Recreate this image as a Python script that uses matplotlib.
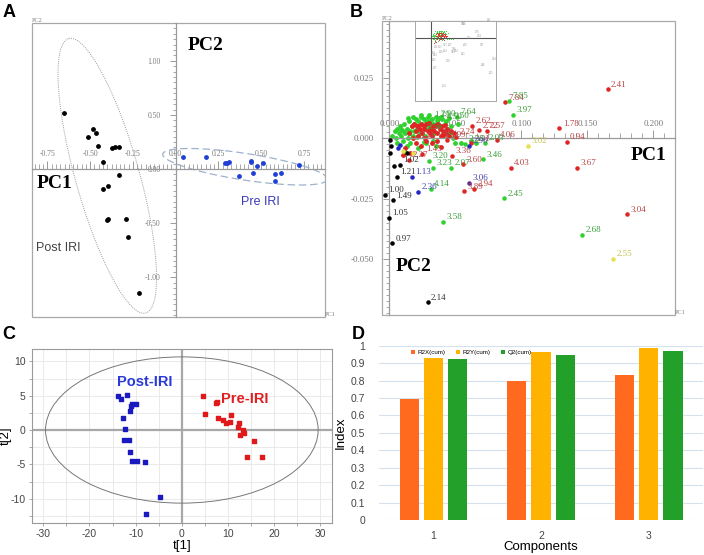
import numpy as np
import matplotlib.pyplot as plt
from matplotlib.patches import Rectangle, Ellipse
from matplotlib.ticker import MultipleLocator, FuncFormatter

plt.rcParams['axes.unicode_minus'] = False
SERIF = 'Liberation Serif'
SANS = 'Liberation Sans'

# ------------------------------------------------------------
# Panel A: PCA scores (Post IRI / Pre IRI)
post_x = [-0.651, -0.485, -0.511, -0.466, -0.456, -0.370, -0.355, -0.331, -0.423,
          -0.331, -0.394, -0.427, -0.394, -0.400, -0.292, -0.277, -0.216]
post_y = [0.52, 0.366, 0.298, 0.329, 0.215, 0.197, 0.200, 0.203, 0.062,
          -0.055, -0.154, -0.188, -0.465, -0.474, -0.462, -0.631, -1.148]
pre_x = [0.043, 0.179, 0.290, 0.302, 0.314, 0.439, 0.442, 0.474, 0.509,
         0.370, 0.454, 0.581, 0.616, 0.581, 0.723]
pre_y = [0.111, 0.108, 0.052, 0.058, 0.062, 0.062, 0.074, 0.028, 0.055,
         -0.065, -0.040, -0.049, -0.040, -0.114, 0.037]

# ellipses: centre and two conjugate semi-axis vectors (data units)
post_ell = [(-0.400, -0.062), (-0.225, 1.268), (0.180, 0.078)]
pre_ell = [(0.405, 0.0215), (0.481, -0.117), (-0.012, -0.1215)]

# ------------------------------------------------------------
# Panel B: loadings, labelled points
b_x = [0.1654, 0.0876, 0.0624, 0.0679, 0.0737, 0.1288, 0.1343, 0.0813, 0.1419,
       0.0919, 0.1798, 0.0616, 0.0472, 0.0561, 0.0566, 0.0641, 0.0434, 0.0505,
       0.0250, 0.0150,
       0.0907, 0.0937, 0.0510, 0.0725, 0.0707, 0.0303, 0.0333, 0.0467, 0.0313,
       0.0409, 0.0869, 0.1460, 0.0573,
       0.0172, 0.0217, 0.0606, 0.0604,
       0.1053, 0.1692,
       0.0056, 0.0081, -0.0033, 0.0025, -0.0005, 0.0023, 0.0290]
b_y = [0.0203, 0.0149, 0.0052, 0.0033, 0.0032, 0.0041, -0.0014, -0.0007, -0.0124,
       -0.0124, -0.0315, -0.0021, -0.0072, -0.0108, -0.0220, -0.0210, -0.0007, 0.0007,
       -0.0065, -0.0090,
       0.0155, 0.0098, 0.0090, -0.0018, -0.0087, -0.0093, -0.0124, -0.0124, -0.0210,
       -0.0345, -0.0249, -0.0401, -0.0023,
       -0.0160, -0.0222, -0.0185, -0.0030,
       -0.0030, -0.0501,
       -0.0159, -0.0109, -0.0233, -0.0257, -0.0331, -0.0435, -0.0680]
b_txt = ['2.41', '7.84', '2.62', '2.72', '2.57', '1.78', '0.94', '4.06', '3.67',
         '4.03', '3.04', '3.31', '3.36', '3.60', '3.89', '2.94', '1.99', '2.24',
         '1.45', '2.27',
         '7.85', '3.97', '7.64', '2.03', '3.46', '3.20', '3.23', '2.07', '4.14',
         '3.58', '2.45', '2.68', '3.38',
         '1.13', '2.36', '3.06', '2.96',
         '3.02', '2.55',
         '1.21', '1.02', '1.00', '1.49', '1.05', '0.97', '2.14']
b_grp = ['r'] * 20 + ['g'] * 13 + ['b', 'b', 'p', 'b'] + ['y', 'y'] + ['k'] * 7

# unlabelled points (dense cluster near origin)
green_cx = [0.002, 0.004, 0.005, 0.006, 0.007, 0.008, 0.009, 0.010, 0.011, 0.012,
            0.013, 0.014, 0.015, 0.016, 0.017, 0.018, 0.019, 0.020, 0.021, 0.022,
            0.023, 0.024, 0.025, 0.026, 0.027, 0.028, 0.029, 0.030, 0.032, 0.033,
            0.035, 0.036, 0.038, 0.040, 0.042, 0.044, 0.046, 0.048, 0.050, 0.010,
            0.013, 0.016, 0.012, 0.022, 0.028, 0.035, 0.054, 0.062, 0.066, 0.009,
            0.015, 0.019, 0.031, 0.037, 0.043, 0.006, 0.027, 0.034, 0.041, 0.047,
            0.018, 0.024, 0.030, 0.039, 0.045, 0.021, 0.033, 0.026, 0.014, 0.052]
green_cy = [0.001, 0.003, 0.000, 0.004, 0.002, 0.005, 0.001, 0.003, 0.006, 0.002,
            0.004, 0.000, 0.007, 0.003, 0.005, 0.001, 0.006, 0.008, 0.004, 0.007,
            0.002, 0.009, 0.006, 0.008, 0.004, 0.007, 0.009, 0.005, 0.008, 0.006,
            0.009, 0.007, 0.005, 0.008, 0.006, 0.004, 0.002, 0.000, -0.002, -0.001,
            -0.003, -0.002, -0.0055, -0.004, -0.002, -0.003, -0.002, -0.001, -0.002, 0.004,
            0.002, 0.003, 0.007, 0.008, 0.007, -0.002, 0.001, 0.002, 0.001, 0.005,
            0.009, 0.0095, 0.0095, 0.009, 0.0085, 0.0005, -0.001, -0.0015, 0.0085, 0.006]
red_cx = [0.015, 0.017, 0.018, 0.019, 0.020, 0.021, 0.022, 0.023, 0.024, 0.025,
          0.026, 0.027, 0.028, 0.029, 0.030, 0.031, 0.032, 0.033, 0.034, 0.035,
          0.036, 0.037, 0.038, 0.039, 0.040, 0.041, 0.042, 0.043, 0.044, 0.045,
          0.047, 0.049, 0.020, 0.024, 0.028, 0.032, 0.036, 0.012, 0.016, 0.039,
          0.026, 0.031, 0.035, 0.022, 0.041, 0.010, 0.033]
red_cy = [0.002, 0.005, 0.000, 0.006, 0.003, 0.005, 0.001, 0.004, 0.006, 0.002,
          0.005, 0.000, 0.006, 0.003, 0.0065, 0.004, 0.001, 0.005, 0.003, 0.005,
          0.002, 0.006, 0.004, 0.001, 0.005, 0.003, 0.0055, 0.002, 0.004, 0.001,
          0.003, 0.002, -0.002, -0.003, -0.001, -0.002, -0.001, -0.004, -0.006, -0.0035,
          0.004, 0.002, 0.0055, 0.005, 0.0015, -0.0069, 0.0035]
clab_x = [0.031, 0.036, 0.041, 0.046, 0.033, 0.026, 0.038, 0.020]
clab_y = [0.0075, 0.0080, 0.0070, 0.0072, 0.0006, 0.0025, -0.0012, -0.0010]
clab_t = ['1.19', '2.90', '4.50', '0.50', '1.18', '2.56', '1.24', '3.41']
clab_g = ['g', 'g', 'g', 'g', 'r', 'g', 'r', 'r']
black_cx = [0.0005, 0.0010, 0.0005, 0.0038, 0.0131]
black_cy = [-0.0007, -0.0032, -0.0059, -0.0113, -0.0062]
blue_cx = [0.0081, 0.0068]
blue_cy = [-0.0028, -0.0042]
yellow_cx = [0.0106, 0.0182]
yellow_cy = [-0.0051, -0.0059]

# ------------------------------------------------------------
# Panel C: PLS-DA scores
c_post_x = [-13.77, -13.27, -11.97, -11.10, -10.89, -10.02, -11.25, -12.69, -12.26,
            -12.47, -11.54, -11.18, -10.89, -9.81, -7.93, -4.69, -7.79]
c_post_y = [4.95, 4.51, 5.10, 3.54, 3.79, 3.79, 2.72, 1.75, 0.19,
            -1.41, -1.41, -3.16, -4.51, -4.51, -4.61, -9.71, -12.23]
c_pre_x = [4.54, 7.50, 7.64, 4.97, 7.86, 9.01, 9.52, 10.53, 10.67, 12.33, 12.11,
           13.27, 13.48, 12.69, 15.65, 14.20, 17.38]
c_pre_y = [4.90, 3.88, 4.08, 2.33, 1.80, 1.41, 1.07, 1.21, 2.14, 0.97, 0.39,
           0.0, -0.39, -0.73, -1.55, -3.88, -3.98]

# ------------------------------------------------------------
# Panel D: model summary
components = [1, 2, 3]
r2x = [0.694, 0.799, 0.832]
r2y = [0.930, 0.966, 0.984]
q2 = [0.922, 0.947, 0.969]

# ------------------------------------------------------------
fig = plt.figure(figsize=(7.04, 5.55), dpi=100)
axis_gray = '#9a9a9a'
frame_gray = '#a8a8a8'
lab_gray = '#7a7a7a'


def cross_axes(ax, xlim, ylim, xmaj, xmin, ymaj, ymin, xfmt, yfmt, lab_fs):
    ax.set_xlim(*xlim)
    ax.set_ylim(*ylim)
    for s in ['top', 'right']:
        ax.spines[s].set_visible(False)
    ax.spines['left'].set_position(('data', 0))
    ax.spines['bottom'].set_position(('data', 0))
    for s in ['left', 'bottom']:
        ax.spines[s].set_color(axis_gray)
        ax.spines[s].set_linewidth(0.9)
    ax.xaxis.set_major_locator(MultipleLocator(xmaj))
    ax.xaxis.set_minor_locator(MultipleLocator(xmin))
    ax.yaxis.set_major_locator(MultipleLocator(ymaj))
    ax.yaxis.set_minor_locator(MultipleLocator(ymin))
    ax.xaxis.set_major_formatter(FuncFormatter(lambda v, p: xfmt % v))
    ax.yaxis.set_major_formatter(FuncFormatter(lambda v, p: yfmt % v))
    ax.tick_params(axis='x', which='major', direction='in', length=6, width=0.7,
                   color=axis_gray, pad=-13.5, labelsize=lab_fs, labelcolor=lab_gray)
    ax.tick_params(axis='x', which='minor', direction='in', length=3.5, width=0.6,
                   color=axis_gray)
    ax.tick_params(axis='y', which='major', direction='out', length=4, width=0.7,
                   color=axis_gray, pad=7, labelsize=lab_fs, labelcolor=lab_gray)
    ax.tick_params(axis='y', which='minor', direction='out', length=2.5, width=0.6,
                   color=axis_gray)
    for lab in ax.get_xticklabels() + ax.get_yticklabels():
        lab.set_fontfamily(SERIF)
    ax.add_patch(Rectangle((0, 0), 1, 1, transform=ax.transAxes, fill=False,
                           ec=frame_gray, lw=0.9, clip_on=False))
    ax.text(0.0, 1.0, 'PC2', transform=ax.transAxes, fontsize=4.5, family=SERIF,
            color='#808080', ha='left', va='bottom')
    ax.text(1.0, 0.0, 'PC1', transform=ax.transAxes, fontsize=4.5, family=SERIF,
            color='#808080', ha='left', va='bottom')


def ellipse_curve(c, u, v):
    t = np.linspace(0, 2 * np.pi, 300)
    return (c[0] + u[0] * np.cos(t) + v[0] * np.sin(t),
            c[1] + u[1] * np.cos(t) + v[1] * np.sin(t))


# ---------------- A
axA = fig.add_axes([0.045, 0.4288, 0.4167, 0.530])
cross_axes(axA, (-0.842, 0.873), (-1.367, 1.351), 0.25, 0.025, 0.5, 0.05,
           '%.2f', '%.2f', 5.5)
ex, ey = ellipse_curve(*post_ell)
axA.plot(ex, ey, ls=(0, (1, 1.2)), color='#9a9a9a', lw=0.7)
ex, ey = ellipse_curve(*pre_ell)
axA.plot(ex, ey, ls=(0, (6, 3)), color='#9fb2cc', lw=0.9)
axA.scatter(post_x, post_y, s=6, color='black', zorder=3)
axA.scatter(pre_x, pre_y, s=6, color='#1f3fd6', zorder=3)
axA.text(-0.706, -0.132, 'PC1', family=SERIF, fontsize=14, fontweight='bold',
         ha='center', va='center')
axA.text(0.175, 1.145, 'PC2', family=SERIF, fontsize=14, fontweight='bold',
         ha='center', va='center')
axA.text(-0.686, -0.732, 'Post IRI', family=SANS, fontsize=9, color='#444444',
         ha='center', va='center')
axA.text(0.497, -0.30, 'Pre IRI', family=SANS, fontsize=9, color='#3a3ab8',
         ha='center', va='center')

# ---------------- B
pt_col = {'r': '#e02424', 'g': '#2ed12e', 'b': '#2424c8', 'p': '#5a2a9a',
          'y': '#e8e050', 'k': 'black'}
tx_col = {'r': '#b84545', 'g': '#3a9e3a', 'b': '#4545aa', 'p': '#4545aa',
          'y': '#c8c050', 'k': '#333333'}

axB = fig.add_axes([0.5422, 0.4324, 0.4166, 0.5298])
cross_axes(axB, (-0.0058, 0.2164), (-0.0732, 0.0486), 0.05, 0.05 / 6, 0.025,
           0.0025, '%.3f', '%.3f', 6.5)
axB.scatter(green_cx, green_cy, s=6, color=pt_col['g'], zorder=2)
axB.scatter(red_cx, red_cy, s=6, color=pt_col['r'], zorder=2.5)
axB.scatter(black_cx, black_cy, s=5, color='black', zorder=3)
axB.scatter(blue_cx, blue_cy, s=5, color=pt_col['b'], zorder=3)
axB.scatter(yellow_cx, yellow_cy, s=5, color=pt_col['y'], zorder=3)
for x, y, t, g in zip(b_x, b_y, b_txt, b_grp):
    axB.scatter([x], [y], s=5, color=pt_col[g], zorder=3)
    axB.annotate(t, (x, y), xytext=(2.5, 2), textcoords='offset points',
                 fontsize=6.5, family=SERIF, color=tx_col[g], zorder=4)
for x, y, t, g in zip(clab_x, clab_y, clab_t, clab_g):
    axB.annotate(t, (x, y), xytext=(2.5, 2), textcoords='offset points',
                 fontsize=6.5, family=SERIF, color=tx_col[g], zorder=4)
axB.text(0.196, -0.0073, 'PC1', family=SERIF, fontsize=14, fontweight='bold',
         ha='center', va='center')
axB.text(0.0187, -0.0532, 'PC2', family=SERIF, fontsize=14, fontweight='bold',
         ha='center', va='center')

# inset overview
axI = fig.add_axes([0.5895, 0.8186, 0.115, 0.144])
axI.set_facecolor('white')
axI.set_xlim(-0.047, 0.196)
axI.set_ylim(-0.084, 0.0227)
axI.set_xticks([])
axI.set_yticks([])
for s in axI.spines.values():
    s.set_color(frame_gray)
    s.set_linewidth(0.7)
axI.axhline(0, color='#555555', lw=0.8)
axI.axvline(0, color='#555555', lw=0.8)
axI.scatter(green_cx, green_cy, s=0.6, color=pt_col['g'], lw=0)
axI.scatter(red_cx, red_cy, s=0.6, color=pt_col['r'], lw=0)
for x, y, t, g in zip(b_x, b_y, b_txt, b_grp):
    if abs(y) > 0.012 or x > 0.1:
        axI.annotate(t, (x, y), xytext=(1, 1), textcoords='offset points',
                     fontsize=1.8, family=SERIF, color='#888888')

# ---------------- C
axC = fig.add_axes([0.045, 0.0582, 0.4266, 0.313])
axC.set_xlim(-32.5, 32.5)
axC.set_ylim(-13.5, 11.8)
axC.set_xticks([-30, -20, -10, 0, 10, 20, 30])
axC.set_yticks([-10, -5, 0, 5, 10])
axC.set_xticks(np.arange(-30, 31, 5), minor=True)
axC.set_yticks(np.arange(-12.5, 11.8, 2.5), minor=True)
axC.grid(which='both', color='#e6e6e6', lw=0.6)
axC.set_axisbelow(True)
axC.tick_params(which='both', length=2.5, width=0.6, color='#999999',
                labelsize=7.5, labelcolor='#444444', pad=2)
for lab in axC.get_xticklabels() + axC.get_yticklabels():
    lab.set_fontfamily(SANS)
for s in axC.spines.values():
    s.set_color('#9a9a9a')
    s.set_linewidth(0.8)
axC.axhline(0, color='#a8a8a8', lw=1.6, zorder=1)
axC.axvline(0, color='#a8a8a8', lw=1.6, zorder=1)
axC.add_patch(Ellipse((0, 0), 59.0, 21.3, fill=False, ec='#777777', lw=0.7, zorder=2))
axC.scatter(c_post_x, c_post_y, marker='s', s=9, color='#1a1ac0', zorder=3)
axC.scatter(c_pre_x, c_pre_y, marker='s', s=9, color='#e01a1a', zorder=3)
axC.text(-8.0, 6.94, 'Post-IRI', family=SANS, fontsize=10.5, fontweight='bold',
         color='#2a3ad8', ha='center', va='center')
axC.text(13.6, 4.47, 'Pre-IRI', family=SANS, fontsize=10.5, fontweight='bold',
         color='#e02020', ha='center', va='center')
axC.set_xlabel('t[1]', family=SANS, fontsize=9.5)
axC.xaxis.set_label_coords(0.5, -0.1)
axC.set_ylabel('t[2]', family=SANS, fontsize=9.5)
axC.yaxis.set_label_coords(-0.065, 0.5)

# ---------------- D
axD = fig.add_axes([0.5388, 0.0631, 0.4594, 0.314])
off = 0.224
w = 0.177
xpos = np.array(components, dtype=float)
axD.bar(xpos - off, r2x, w, color='#ff6a1f', label='R2X(cum)', zorder=2)
axD.bar(xpos, r2y, w, color='#ffb300', label='R2Y(cum)', zorder=2)
axD.bar(xpos + off, q2, w, color='#22a02a', label='Q2(cum)', zorder=2)
axD.set_xlim(0.5, 3.5)
axD.set_ylim(0, 1)
axD.set_xticks(components)
axD.set_yticks(np.arange(0, 1.01, 0.1))
axD.yaxis.set_major_formatter(FuncFormatter(lambda v, p: '%g' % round(v, 1)))
axD.grid(axis='y', color='#d5e2ee', lw=0.8, zorder=0)
for s in axD.spines.values():
    s.set_visible(False)
axD.tick_params(length=0, labelsize=7.5, labelcolor='#444444')
axD.tick_params(axis='y', pad=10)
axD.tick_params(axis='x', pad=8)
for lab in axD.get_xticklabels() + axD.get_yticklabels():
    lab.set_fontfamily(SANS)
axD.set_xlabel('Components', family=SANS, fontsize=9.5)
axD.xaxis.set_label_coords(0.5, -0.12)
axD.set_ylabel('Index', family=SANS, fontsize=9.5)
axD.yaxis.set_label_coords(-0.1, 0.5)
axD.legend(loc='upper left', bbox_to_anchor=(0.08, 1.01), ncol=3, frameon=False,
           prop={'family': SANS, 'size': 4.5}, handlelength=0.7, handleheight=0.7,
           handletextpad=0.4, columnspacing=1.6)

# ---------------- panel letters
for x, y, t in [(0.003, 0.993, 'A'), (0.497, 0.993, 'B'),
                (0.003, 0.412, 'C'), (0.499, 0.412, 'D')]:
    fig.text(x, y, t, family=SANS, fontsize=13, fontweight='bold', va='top')

fig.savefig('out.png', dpi=100)
